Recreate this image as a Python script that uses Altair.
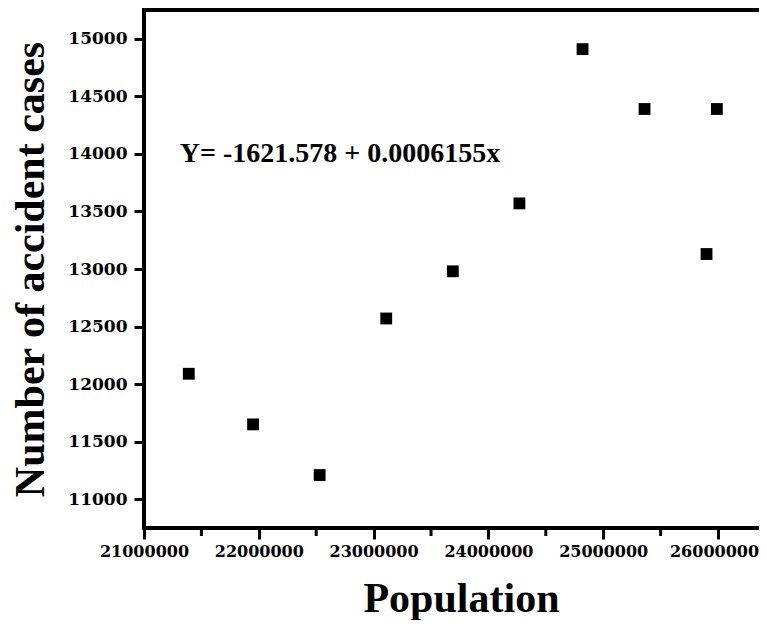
import altair as alt
import pandas as pd

population = [21390000, 21950000, 22530000, 23110000, 23690000,
              24270000, 24820000, 25360000, 25900000, 25990000]
cases = [12090, 11650, 11210, 12570, 12980, 13570, 14910, 14390, 13130, 14390]

x_ticks = [21000000, 22000000, 23000000, 24000000, 25000000, 26000000]
x_minor = [21500000, 22500000, 23500000, 24500000, 25500000]
y_ticks = [11000, 11500, 12000, 12500, 13000, 13500, 14000, 14500, 15000]

equation = "Y= -1621.578 + 0.0006155x"
eq_pos = [21312000, 14000]

W, H = 615, 518

df = pd.DataFrame({"Population": population, "Cases": cases})
minor_df = pd.DataFrame({"Population": x_minor})
eq_df = pd.DataFrame({"Population": [eq_pos[0]], "Cases": [eq_pos[1]], "t": [equation]})
one_df = pd.DataFrame({"a": [0]})

xscale = alt.Scale(domain=[21000000, 26357000], nice=False, zero=False)
yscale = alt.Scale(domain=[10750, 15250], nice=False, zero=False)

TF = "Liberation Serif"
LF = "DejaVu Serif"

xaxis = alt.Axis(orient="bottom", values=x_ticks, format="d", title="Population",
                 grid=False, domain=False,
                 ticks=True, tickColor="black", tickWidth=3, tickSize=11,
                 labelFont=LF, labelFontWeight="bold", labelFontSize=16,
                 labelColor="black", labelPadding=4, labelFlush=False,
                 labelOffset={"condition": {"test": "datum.value >= 26000000", "value": -4},
                              "value": 0},
                 titleFont=TF, titleFontWeight="bold", titleFontSize=42,
                 titleColor="black", titleX=317, titleY=83,
                 titleBaseline="alphabetic", titleAlign="center")
yaxis = alt.Axis(orient="left", values=y_ticks, format="d", title="Number of accident cases",
                 grid=False, domain=False,
                 ticks=True, tickColor="black", tickWidth=3, tickSize=10,
                 labelFont=LF, labelFontWeight="bold", labelFontSize=17,
                 labelColor="black", labelPadding=7,
                 titleFont=TF, titleFontWeight="bold", titleFontSize=42,
                 titleColor="black", titleAngle=-90, titleX=-101,
                 titleY=H / 2, titleBaseline="alphabetic", titleAlign="center")

# invisible axes for the helper layers (axes are resolved independently)
x_hidden = alt.Axis(orient="bottom", values=x_ticks, title=" ", grid=False,
                    domain=False, ticks=False, labels=False, titleOpacity=0)
y_hidden = alt.Axis(orient="left", values=y_ticks, title=" ",
                    grid=False, domain=False, ticks=False, labels=False, titleOpacity=0)

points = alt.Chart(df).mark_square(size=140, color="black", opacity=1).encode(
    x=alt.X("Population:Q", scale=xscale, axis=xaxis),
    y=alt.Y("Cases:Q", scale=yscale, axis=yaxis),
)

minor = alt.Chart(minor_df).mark_rule(color="black", strokeWidth=3).encode(
    x=alt.X("Population:Q", scale=xscale, axis=x_hidden),
    y=alt.value(H),
    y2=alt.value(H + 8),
)

eq = alt.Chart(eq_df).mark_text(
    align="left", baseline="middle", font=TF, fontWeight="bold",
    fontSize=28, color="black"
).encode(
    x=alt.X("Population:Q", scale=xscale, axis=x_hidden),
    y=alt.Y("Cases:Q", scale=yscale, axis=y_hidden),
    text="t:N",
)

# frame: top, left and bottom edges (the right edge lies beyond the picture)
top = alt.Chart(one_df).mark_rule(color="black", strokeWidth=4).encode(
    x=alt.value(-2), x2=alt.value(W), y=alt.value(0)
)
left = alt.Chart(one_df).mark_rule(color="black", strokeWidth=4).encode(
    x=alt.value(0), y=alt.value(-2), y2=alt.value(H + 2)
)
bottom = alt.Chart(one_df).mark_rule(color="black", strokeWidth=4).encode(
    x=alt.value(-2), x2=alt.value(W), y=alt.value(H)
)

chart = alt.layer(points, minor, eq, top, left, bottom).resolve_axis(
    x="independent", y="independent"
).properties(
    width=W, height=H,
    padding={"left": 136, "top": 2, "right": 0, "bottom": 92},
    autosize="none",
    background="white",
).configure_view(stroke="transparent", strokeWidth=0)

chart.save("out.html", embed_options={"renderer": "svg", "actions": False})
